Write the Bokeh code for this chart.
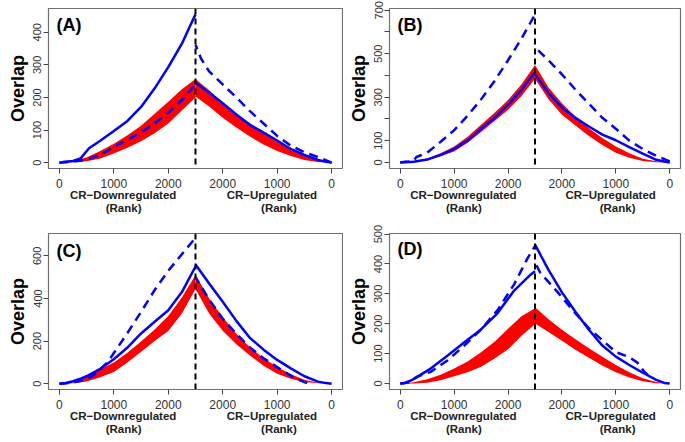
from bokeh.plotting import figure
from bokeh.layouts import column, row
from bokeh.models import FixedTicker, LinearAxis, Span, Label, Range1d
from bokeh.embed import file_html
from bokeh.resources import INLINE

# ---------------- data ----------------
HALF = 2500  # length of each ranked list
RANK = [0, 250, 500, 750, 1000, 1250, 1500, 1750, 2000, 2250, 2500]
X_TICKS = [0, 1000, 2000, 3000, 4000, 5000]
X_TICK_LABELS = ["0", "1000", "2000", "2000", "1000", "0"]
GROUP_POS = [1171, 3903]
GROUP_LABELS = ["CR\u2212Downregulated", "CR\u2212Upregulated"]
RANK_POS = [1180, 4033]
RANK_LABELS = ["(Rank)", "(Rank)"]
TAGS = ["(A)", "(B)", "(C)", "(D)"]

# Panel A
A_NULL_DOWN_LO = [0, 1, 4, 13, 28, 46, 66, 90, 120, 160, 200]
A_NULL_DOWN_HI = [0, 5, 16, 36, 58, 84, 113, 150, 187, 225, 257]
A_NULL_UP_LO = [0, 2, 8, 20, 36, 56, 80, 108, 138, 172, 203]
A_NULL_UP_HI = [0, 8, 22, 42, 64, 90, 118, 150, 183, 222, 257]
A_SOLID_DOWN_RANK = [0, 100, 250, 390, 545, 750, 1000, 1250, 1500, 1750, 2000, 2250, 2400, 2500]
A_SOLID_DOWN = [0, 3, 5, 13, 44, 67, 97, 128, 171, 228, 293, 365, 419, 455]
A_SOLID_UP_RANK = [0, 100, 250, 500, 750, 1000, 1250, 1500, 1750, 2000, 2250, 2500]
A_SOLID_UP = [0, 3, 8, 24, 42, 68, 92, 116, 148, 182, 215, 245]
A_DASH_DOWN_RANK = [0, 250, 483, 750, 1000, 1250, 1500, 1750, 2000, 2250, 2500]
A_DASH_DOWN = [0, 3, 8, 24, 48, 71, 92, 121, 153, 192, 240]
A_DASH_UP_RANK = [0, 250, 500, 750, 1000, 1250, 1500, 1750, 2000, 2250, 2400, 2500]
A_DASH_UP = [0, 17, 32, 52, 82, 120, 158, 200, 240, 280, 320, 362]
A_YTICKS = [0, 100, 200, 300, 400]
A_YLABELS = ["0", "100", "200", "300", "400"]

# Panel B
B_NULL_DOWN_LO = [0, 2, 10, 28, 50, 90, 140, 190, 242, 305, 385]
B_NULL_DOWN_HI = [0, 5, 18, 42, 73, 118, 173, 228, 287, 360, 448]
B_NULL_UP_LO = [0, 1, 6, 22, 45, 80, 122, 170, 219, 290, 385]
B_NULL_UP_HI = [0, 5, 17, 42, 73, 112, 157, 210, 272, 345, 448]
B_SOLID_DOWN_RANK = [0, 100, 200, 250, 500, 750, 1000, 1250, 1500, 1750, 2000, 2250, 2500]
B_SOLID_DOWN = [0, 3, 2, 3, 13, 35, 62, 100, 155, 205, 265, 335, 415]
B_SOLID_UP_RANK = [0, 100, 250, 500, 750, 1000, 1250, 1500, 1750, 2000, 2250, 2500]
B_SOLID_UP = [0, 4, 12, 40, 70, 102, 128, 165, 205, 252, 320, 405]
B_DASH_DOWN_RANK = [0, 150, 250, 300, 500, 750, 1000, 1250, 1500, 1750, 2000, 2250, 2500]
B_DASH_DOWN = [0, 3, 8, 25, 45, 95, 148, 215, 290, 375, 470, 570, 680]
B_DASH_UP_RANK = [0, 250, 500, 750, 1000, 1250, 1500, 1750, 2000, 2250, 2500]
B_DASH_UP = [5, 30, 62, 100, 155, 205, 270, 335, 405, 470, 530]
B_YTICKS = [0, 100, 200, 300, 400, 500, 600, 700]
B_YLABELS = ["0", "100", "", "300", "", "500", "", "700"]

# Panel C
C_NULL_DOWN_LO = [0, 2, 10, 30, 55, 100, 150, 200, 248, 330, 445]
C_NULL_DOWN_HI = [0, 6, 30, 68, 100, 145, 198, 255, 318, 405, 510]
C_NULL_UP_LO = [0, 2, 8, 24, 47, 85, 132, 185, 249, 330, 445]
C_NULL_UP_HI = [0, 5, 19, 45, 78, 120, 171, 235, 312, 400, 512]
C_SOLID_DOWN_RANK = [0, 100, 250, 400, 500, 750, 1000, 1250, 1500, 1750, 2000, 2250, 2500]
C_SOLID_DOWN = [0, 2, 12, 25, 35, 70, 115, 170, 236, 291, 345, 430, 550]
C_SOLID_UP_RANK = [0, 100, 250, 500, 750, 1000, 1250, 1500, 1750, 2000, 2250, 2500]
C_SOLID_UP = [0, 3, 10, 35, 72, 112, 160, 215, 295, 385, 470, 560]
C_DASH_DOWN_RANK = [0, 250, 500, 600, 700, 900, 1000, 1250, 1500, 1750, 2000, 2250, 2500]
C_DASH_DOWN = [0, 5, 20, 35, 55, 105, 144, 238, 337, 440, 530, 608, 685]
C_DASH_UP_RANK = [450, 500, 600, 750, 1000, 1250, 1500, 1750, 2000, 2250, 2500]
C_DASH_UP = [3, 8, 18, 38, 78, 120, 170, 235, 305, 395, 500]
C_YTICKS = [0, 200, 400, 600]
C_YLABELS = ["0", "200", "400", "600"]

# Panel D
D_NULL_DOWN_LO = [0, 0, 3, 11, 24, 38, 56, 84, 115, 160, 198]
D_NULL_DOWN_HI = [0, 4, 14, 29, 50, 74, 105, 140, 183, 225, 252]
D_NULL_UP_LO = [0, 1, 8, 20, 38, 60, 86, 113, 143, 172, 201]
D_NULL_UP_HI = [0, 5, 18, 38, 62, 90, 118, 148, 180, 215, 255]
D_SOLID_DOWN_RANK = [0, 68, 223, 564, 874, 1184, 1493, 1803, 2113, 2422, 2500]
D_SOLID_DOWN = [0, 1, 12, 50, 93, 137, 180, 235, 311, 365, 376]
D_SOLID_UP_RANK = [0, 100, 250, 500, 750, 1000, 1250, 1500, 1750, 2000, 2250, 2500]
D_SOLID_UP = [0, 2, 12, 36, 62, 90, 127, 180, 240, 305, 380, 465]
D_DASH_DOWN_RANK = [0, 150, 316, 564, 874, 1184, 1493, 1803, 2113, 2361, 2500]
D_DASH_DOWN = [0, 3, 23, 39, 77, 126, 180, 245, 332, 419, 460]
D_DASH_UP_RANK = [400, 465, 600, 750, 1000, 1250, 1500, 1750, 2100, 2250, 2400, 2500]
D_DASH_UP = [28, 38, 70, 88, 105, 145, 185, 235, 310, 340, 370, 405]
D_YTICKS = [0, 100, 200, 300, 400, 500]
D_YLABELS = ["0", "100", "200", "300", "400", "500"]

# ---------------- styling ----------------
FONT = "Liberation Sans"
BLUE = "#0000ff"
RED = "#ff0000"
FRAME = "#707070"
TXT = "#333333"


def up_x(ranks):
    return [2 * HALF - r for r in ranks]


def make_panel(tag, yr, yticks, ylabels, nd_lo, nd_hi, nu_lo, nu_hi,
               sd_r, sd, su_r, su, dd_r, dd, du_r, du,
               width, height, bl, br, bt, bb):
    p = figure(width=width, height=height,
               x_range=Range1d(-200, 5200), y_range=Range1d(*yr),
               output_backend="svg", toolbar_location=None,
               min_border_left=bl, min_border_right=br,
               min_border_top=bt, min_border_bottom=bb)
    p.grid.visible = False
    p.outline_line_color = FRAME
    p.outline_line_width = 1.2
    p.background_fill_color = "white"
    p.border_fill_color = "white"

    # null band
    p.varea(x=RANK, y1=nd_lo, y2=nd_hi, fill_color=RED, fill_alpha=1.0)
    p.varea(x=up_x(RANK), y1=nu_lo, y2=nu_hi, fill_color=RED, fill_alpha=1.0)

    # observed overlaps
    p.line(sd_r, sd, line_color=BLUE, line_width=2.5)
    p.line(up_x(su_r), su, line_color=BLUE, line_width=2.5)
    p.line(dd_r, dd, line_color=BLUE, line_width=2.5, line_dash="9 6")
    p.line(up_x(du_r), du, line_color=BLUE, line_width=2.5, line_dash="9 6")

    p.add_layout(Span(location=HALF, dimension="height", line_color="black",
                      line_width=2, line_dash="6 4"))

    # x axis (main)
    xa = p.xaxis[0]
    xa.ticker = FixedTicker(ticks=X_TICKS)
    xa.major_label_overrides = dict(zip(X_TICKS, X_TICK_LABELS))
    xa.axis_line_color = None
    xa.major_tick_out = 5
    xa.major_tick_in = 0
    xa.major_tick_line_color = "#444444"
    xa.minor_tick_line_color = None
    xa.major_label_standoff = 5
    xa.major_label_text_font = FONT
    xa.major_label_text_font_size = "12px"
    xa.major_label_text_color = TXT

    for pos, labs in ((GROUP_POS, GROUP_LABELS), (RANK_POS, RANK_LABELS)):
        ax = LinearAxis(ticker=FixedTicker(ticks=pos),
                        major_label_overrides=dict(zip(pos, labs)))
        ax.axis_line_color = None
        ax.major_tick_line_color = None
        ax.minor_tick_line_color = None
        ax.major_tick_out = 0
        ax.major_tick_in = 0
        ax.major_label_standoff = -2
        ax.major_label_text_font = FONT
        ax.major_label_text_font_size = "11.5px"
        ax.major_label_text_font_style = "bold"
        ax.major_label_text_color = "#222222"
        p.add_layout(ax, "below")

    ya = p.yaxis[0]
    ya.ticker = FixedTicker(ticks=yticks)
    ya.major_label_overrides = dict(zip(yticks, ylabels))
    ya.axis_line_color = None
    ya.major_tick_out = 5
    ya.major_tick_in = 0
    ya.major_tick_line_color = "#444444"
    ya.minor_tick_line_color = None
    ya.major_label_orientation = "vertical"
    ya.major_label_standoff = 2
    ya.major_label_text_font = FONT
    ya.major_label_text_font_size = "11px"
    ya.major_label_text_color = TXT
    ya.axis_label = "Overlap"
    ya.axis_label_text_font = FONT
    ya.axis_label_text_font_style = "bold"
    ya.axis_label_text_font_size = "18px"
    ya.axis_label_text_color = "black"
    ya.axis_label_standoff = 3

    frame_h = height - bt - bb
    p.add_layout(Label(x=8, y=frame_h - 7, x_units="screen", y_units="screen",
                       text=tag, text_font=FONT, text_font_style="bold",
                       text_font_size="18px", text_color="black",
                       text_baseline="top", text_align="left"))
    return p


pA = make_panel(TAGS[0], (-18, 473), A_YTICKS, A_YLABELS,
                A_NULL_DOWN_LO, A_NULL_DOWN_HI, A_NULL_UP_LO, A_NULL_UP_HI,
                A_SOLID_DOWN_RANK, A_SOLID_DOWN, A_SOLID_UP_RANK, A_SOLID_UP,
                A_DASH_DOWN_RANK, A_DASH_DOWN, A_DASH_UP_RANK, A_DASH_UP,
                343, 222, 48, 1, 7, 54)
pB = make_panel(TAGS[1], (-28, 708), B_YTICKS, B_YLABELS,
                B_NULL_DOWN_LO, B_NULL_DOWN_HI, B_NULL_UP_LO, B_NULL_UP_HI,
                B_SOLID_DOWN_RANK, B_SOLID_DOWN, B_SOLID_UP_RANK, B_SOLID_UP,
                B_DASH_DOWN_RANK, B_DASH_DOWN, B_DASH_UP_RANK, B_DASH_UP,
                342, 222, 46, 5, 8, 53)
pC = make_panel(TAGS[2], (-27, 705), C_YTICKS, C_YLABELS,
                C_NULL_DOWN_LO, C_NULL_DOWN_HI, C_NULL_UP_LO, C_NULL_UP_HI,
                C_SOLID_DOWN_RANK, C_SOLID_DOWN, C_SOLID_UP_RANK, C_SOLID_UP,
                C_DASH_DOWN_RANK, C_DASH_DOWN, C_DASH_UP_RANK, C_DASH_UP,
                343, 220, 48, 1, 11, 53)
pD = make_panel(TAGS[3], (-20, 502), D_YTICKS, D_YLABELS,
                D_NULL_DOWN_LO, D_NULL_DOWN_HI, D_NULL_UP_LO, D_NULL_UP_HI,
                D_SOLID_DOWN_RANK, D_SOLID_DOWN, D_SOLID_UP_RANK, D_SOLID_UP,
                D_DASH_DOWN_RANK, D_DASH_DOWN, D_DASH_UP_RANK, D_DASH_UP,
                342, 220, 46, 5, 9, 53)

layout = column(row(pA, pB), row(pC, pD))

open("out.html", "w").write(file_html(layout, INLINE))
